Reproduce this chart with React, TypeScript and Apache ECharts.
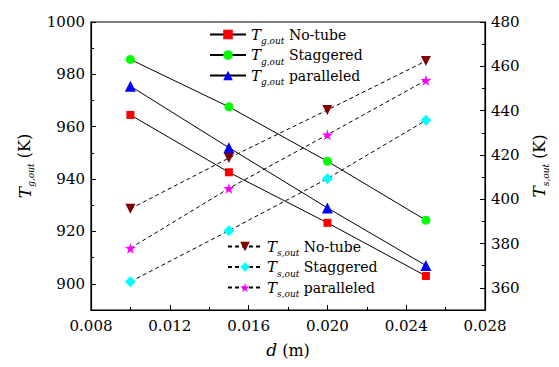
import React, { useEffect, useRef } from 'react';
import * as echarts from 'echarts';

// ---- data ----
const dValues = [0.01, 0.015, 0.02, 0.025];
const tgNoTube = [964.5, 942.6, 923.3, 903.0];
const tgStaggered = [985.7, 967.6, 946.8, 924.3];
const tgParalleled = [975.5, 952.0, 929.0, 907.0];
const tsNoTube = [395.7, 418.6, 440.3, 462.4];
const tsStaggered = [362.8, 385.8, 409.3, 435.6];
const tsParalleled = [377.9, 404.9, 429.1, 453.7];
const caseLabels = ['No-tube', 'Staggered', 'paralleled'];

const xRange = { min: 0.008, max: 0.028, interval: 0.004 };
const leftRange = { min: 890, max: 1000, major: 20, minor: 10, firstLabel: 900 };
const rightRange = { min: 350, max: 480, major: 20, minor: 10, firstLabel: 360 };

const FONT = 'DejaVu Serif';
const STAR = 'path://M50,0 L61,35 L98,35 L68,57 L79,91 L50,70 L21,91 L32,57 L2,35 L39,35 Z';

function mkRich(big: number, normal: number) {
  return {
    t: { fontFamily: FONT, fontStyle: 'italic', fontSize: big, color: '#000', lineHeight: 22, verticalAlign: 'middle' },
    s: { fontFamily: FONT, fontStyle: 'italic', fontSize: 9, color: '#000', lineHeight: 9, verticalAlign: 'bottom' },
    n: { fontFamily: FONT, fontSize: normal, color: '#000', lineHeight: 22, verticalAlign: 'middle' },
    i: { fontFamily: FONT, fontStyle: 'italic', fontSize: big, color: '#000', lineHeight: 22 },
    m: { fontFamily: FONT, fontSize: normal, color: '#000', lineHeight: 22 },
  };
}
const legendRich = mkRich(15, 14);
const nameRich = mkRich(17, 16);

function mkSeries(
  name: string,
  vals: number[],
  yAxisIndex: number,
  symbol: string,
  symbolSize: number,
  color: string,
  dashed: boolean,
  symbolRotate = 0
) {
  return {
    name,
    type: 'line',
    yAxisIndex,
    data: dValues.map((d, i) => [d, vals[i]]),
    symbol,
    symbolSize,
    symbolRotate,
    showAllSymbol: true,
    itemStyle: { color, borderWidth: 0 },
    lineStyle: { color: '#000', width: 1, type: dashed ? [4, 3] : 'solid' },
    emphasis: { disabled: true },
    z: 3,
  };
}

function tickAxis(
  position: 'left' | 'right',
  range: { min: number; max: number; major: number; minor: number; firstLabel: number },
  name: string
) {
  const major = {
    type: 'value',
    position,
    min: range.min,
    max: range.max,
    splitNumber: 6,
    minInterval: range.major,
    maxInterval: range.major,
    axisLine: { show: true, lineStyle: { color: '#000', width: 1.2 } },
    axisTick: { show: true, inside: true, length: 5, lineStyle: { color: '#000', width: 1 } },
    axisLabel: {
      show: true,
      margin: 6,
      fontFamily: FONT,
      fontSize: 15,
      color: '#000',
      formatter: (v: number) => (v >= range.firstLabel && Math.round(v) % range.major === 0 ? String(Math.round(v)) : ''),
    },
    splitLine: { show: false },
    name,
    nameLocation: 'middle',
    nameRotate: 90,
    nameGap: position === 'left' ? 53 : 34,
    nameTextStyle: { fontFamily: FONT, rich: nameRich },
  };
  const minor = {
    type: 'value',
    position,
    min: range.min,
    max: range.max,
    interval: range.minor,
    axisLine: { show: false },
    axisTick: { show: true, inside: true, length: 3, lineStyle: { color: '#000', width: 1 } },
    axisLabel: { show: false },
    splitLine: { show: false },
  };
  return [major, minor];
}

export default function App() {
  const ref = useRef<HTMLDivElement>(null);
  useEffect(() => {
    if (!ref.current) return;
    const chart = echarts.init(ref.current, null, { renderer: 'svg' });
    const [lMaj, lMin] = tickAxis('left', leftRange, '{t|T}{s|g,out}{n| (K)}');
    const [rMaj, rMin] = tickAxis('right', rightRange, '{t|T}{s|s,out}{n| (K)}');
    const subs = { Tg: 'g,out', Ts: 's,out' } as Record<string, string>;
    const legendBase = {
      orient: 'vertical',
      itemHeight: 12,
      itemGap: 2,
      selectedMode: false,
      formatter: (name: string) => {
        const [k, i] = name.split('|');
        return `{t|T}{s|${subs[k]}}{n| ${caseLabels[+i]}}`;
      },
      textStyle: { fontFamily: FONT, rich: legendRich },
    };
    const option = {
      animation: false,
      backgroundColor: '#fff',
      textStyle: { fontFamily: FONT },
      grid: {
        left: 91,
        right: 74,
        top: 22,
        bottom: 57,
        show: true,
        borderColor: '#000',
        borderWidth: 1.2,
        backgroundColor: 'transparent',
        containLabel: false,
        outerBoundsMode: 'none',
      },
      xAxis: {
        type: 'value',
        min: xRange.min,
        max: xRange.max,
        interval: xRange.interval,
        axisLine: { show: true, lineStyle: { color: '#000', width: 1.2 } },
        axisTick: { show: true, inside: true, length: 5, lineStyle: { color: '#000' } },
        minorTick: { show: true, splitNumber: 2, length: 3, lineStyle: { color: '#000' } },
        axisLabel: {
          margin: 8,
          fontFamily: FONT,
          fontSize: 15,
          color: '#000',
          formatter: (v: number) => v.toFixed(3),
        },
        splitLine: { show: false },
        name: '{i|d}{m| (m)}',
        nameLocation: 'middle',
        nameGap: 29,
        nameTextStyle: { fontFamily: FONT, rich: nameRich },
      },
      yAxis: [lMaj, lMin, rMaj, rMin],
      legend: [
        { ...legendBase, data: ['Tg|0', 'Tg|1', 'Tg|2'], left: 204, top: 22, itemWidth: 36 },
        { ...legendBase, data: ['Ts|0', 'Ts|1', 'Ts|2'], left: 222, top: 234, itemWidth: 34 },
      ],
      series: [
        mkSeries('Tg|0', tgNoTube, 0, 'rect', 8, '#ff0000', false),
        mkSeries('Tg|1', tgStaggered, 0, 'circle', 9, '#00ff00', false),
        mkSeries('Tg|2', tgParalleled, 0, 'triangle', 11, '#0000ff', false),
        mkSeries('Ts|0', tsNoTube, 2, 'triangle', 10, '#800000', true, 180),
        mkSeries('Ts|1', tsStaggered, 2, 'diamond', 11, '#00ffff', true),
        mkSeries('Ts|2', tsParalleled, 2, STAR, 11, '#ff00ff', true),
      ],
    };
    chart.setOption(option as any);
    return () => chart.dispose();
  }, []);
  return (
    <div
      ref={ref}
      style={{ position: 'fixed', left: 0, top: 0, width: 559, height: 367, background: '#fff' }}
    />
  );
}
